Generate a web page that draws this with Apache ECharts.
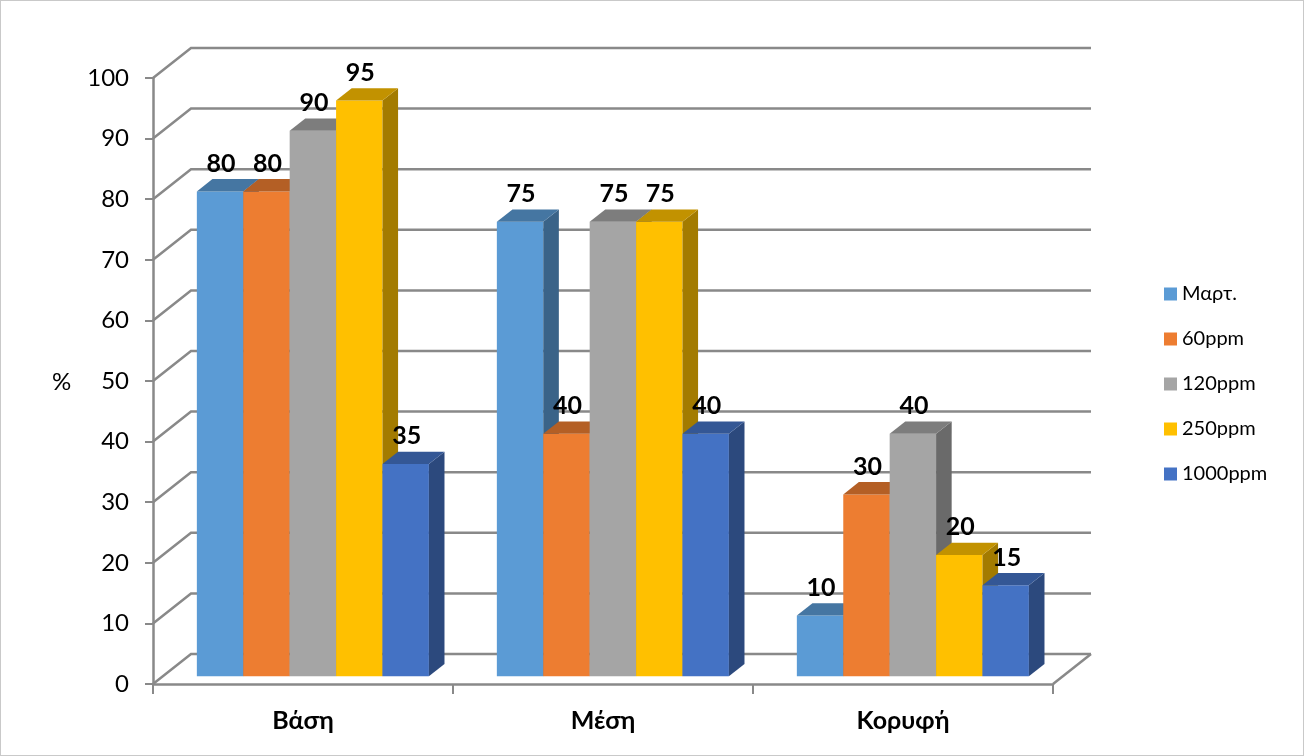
<!DOCTYPE html>
<html>
<head>
<meta charset="utf-8">
<script src="https://cdn.jsdelivr.net/npm/echarts@6/dist/echarts.min.js"></script>
<style>
  html, body { margin: 0; padding: 0; background: #fff; }
  #chart { width: 1304px; height: 756px; box-sizing: border-box; border: 1px solid #c9c9c9; }
</style>
</head>
<body>
<div id="chart"></div>
<script>
// Categories (position along the plant) and treatments
const categories = ['Βάση', 'Μέση', 'Κορυφή'];
const seriesNames = ['Μαρτ.', '60ppm', '120ppm', '250ppm', '1000ppm'];

// Percentage values per treatment, one per category
const valuesControl = [80, 75, 10];
const values60 = [80, 40, 30];
const values120 = [90, 75, 40];
const values250 = [95, 75, 20];
const values1000 = [35, 40, 15];

// Value axis ticks
const yTicks = [0, 10, 20, 30, 40, 50, 60, 70, 80, 90, 100];

const seriesValues = [valuesControl, values60, values120, values250, values1000];
const frontColors = ['#5B9BD5', '#ED7D31', '#A5A5A5', '#FFC000', '#4472C4'];

// Oblique "3D" look: depth vector of the chart walls, in pixels
const DEPTH = [38, -30];
const BAR_FRONT_T = 0.26;   // bar front plane as fraction of wall depth
const BAR_BACK_T = 0.67;    // bar back plane
const BAR_RATIO = 0.1547;   // bar width as a fraction of category width
const GRID_COLOR = '#898989';

function shade(hex, k) {
  const n = parseInt(hex.slice(1), 16);
  const r = Math.round(((n >> 16) & 255) * k);
  const g = Math.round(((n >> 8) & 255) * k);
  const b = Math.round((n & 255) * k);
  return 'rgb(' + r + ',' + g + ',' + b + ')';
}

function makeBarRenderer(idx) {
  const front = frontColors[idx];
  const topC = shade(front, 0.76);
  const sideC = shade(front, 0.64);
  const n = seriesNames.length;
  return function (params, api) {
    const cat = api.value(0);
    const val = api.value(1);
    const base = api.coord([cat, 0]);
    const top = api.coord([cat, val]);
    const catW = api.size([1, 0])[0];
    const bw = catW * BAR_RATIO;
    const fx = DEPTH[0] * BAR_FRONT_T, fy = DEPTH[1] * BAR_FRONT_T;
    const dx = DEPTH[0] * (BAR_BACK_T - BAR_FRONT_T);
    const dy = DEPTH[1] * (BAR_BACK_T - BAR_FRONT_T);
    const x0 = base[0] - bw * n / 2 + idx * bw + fx;
    const x1 = x0 + bw;
    const yB = base[1] + fy;
    const yT = top[1] + fy;
    return {
      type: 'group',
      children: [
        { type: 'rect', shape: { x: x0, y: yT, width: bw, height: yB - yT },
          style: { fill: front } },
        { type: 'polygon', shape: { points: [[x1, yT], [x1 + dx, yT + dy], [x1 + dx, yB + dy], [x1, yB]] },
          style: { fill: sideC } },
        { type: 'polygon', shape: { points: [[x0, yT], [x1, yT], [x1 + dx, yT + dy], [x0 + dx, yT + dy]] },
          style: { fill: topC } },
        { type: 'text', x: (x0 + x1) / 2 + 1, y: yT + dy - 3,
          style: { text: String(val), fill: '#000', font: 'bold 25px Lato',
                   align: 'center', verticalAlign: 'bottom' } }
      ]
    };
  };
}

// Back wall gridlines with the slanted side-wall segments
function renderWall(params, api) {
  const v = api.value(1);
  const cs = params.coordSys;
  const p = api.coord([0, v]);
  const left = cs.x, right = cs.x + cs.width;
  const y = p[1];
  const children = [{
    type: 'polyline',
    shape: { points: [[left, y], [left + DEPTH[0], y + DEPTH[1]], [right + DEPTH[0], y + DEPTH[1]]] },
    style: { stroke: GRID_COLOR, lineWidth: 2.5, fill: null }
  }];
  if (v === 0) {
    children.push({
      type: 'line',
      shape: { x1: right, y1: y, x2: right + DEPTH[0], y2: y + DEPTH[1] },
      style: { stroke: GRID_COLOR, lineWidth: 2.5 }
    });
  }
  return { type: 'group', children: children };
}

const barSeries = seriesNames.map(function (name, i) {
  return {
    type: 'custom',
    name: name,
    z: 10 + i,
    renderItem: makeBarRenderer(i),
    itemStyle: { color: frontColors[i] },
    encode: { x: 0, y: 1 },
    data: seriesValues[i].map(function (v, c) { return [c, v]; })
  };
});

const chart = echarts.init(document.getElementById('chart'), null, { renderer: 'canvas' });
chart.setOption({
  animation: false,
  color: frontColors,
  grid: { left: 152, right: 250, top: 77, bottom: 71, containLabel: false },
  legend: {
    data: seriesNames,
    orient: 'vertical',
    left: 1163,
    top: 282,
    padding: 0,
    icon: 'rect',
    itemWidth: 13,
    itemHeight: 13,
    itemGap: 23,
    textStyle: { fontFamily: 'Lato', fontSize: 20, color: '#000', lineHeight: 22 }
  },
  xAxis: {
    type: 'category',
    data: categories,
    boundaryGap: true,
    axisLine: { show: true, lineStyle: { color: GRID_COLOR, width: 2.5 } },
    axisTick: { show: true, length: 10, lineStyle: { color: GRID_COLOR, width: 2 } },
    axisLabel: { margin: 24, fontFamily: 'Lato', fontWeight: 'bold', fontSize: 25, color: '#000' },
    splitLine: { show: false }
  },
  yAxis: {
    type: 'value',
    min: 0,
    max: 100,
    interval: 10,
    axisLine: { show: true, lineStyle: { color: GRID_COLOR, width: 2.5 } },
    axisTick: { show: true, length: 8, lineStyle: { color: GRID_COLOR, width: 2 } },
    axisLabel: { margin: 24, fontFamily: 'Lato', fontSize: 24, color: '#000' },
    splitLine: { show: false }
  },
  graphic: [{
    type: 'text', left: 51, top: 369,
    style: { text: '%', font: '24px Lato', fill: '#000' }
  }],
  series: [{
    type: 'custom',
    z: 1,
    silent: true,
    renderItem: renderWall,
    encode: { x: 0, y: 1 },
    data: yTicks.map(function (t) { return [0, t]; })
  }].concat(barSeries)
});
</script>
</body>
</html>
